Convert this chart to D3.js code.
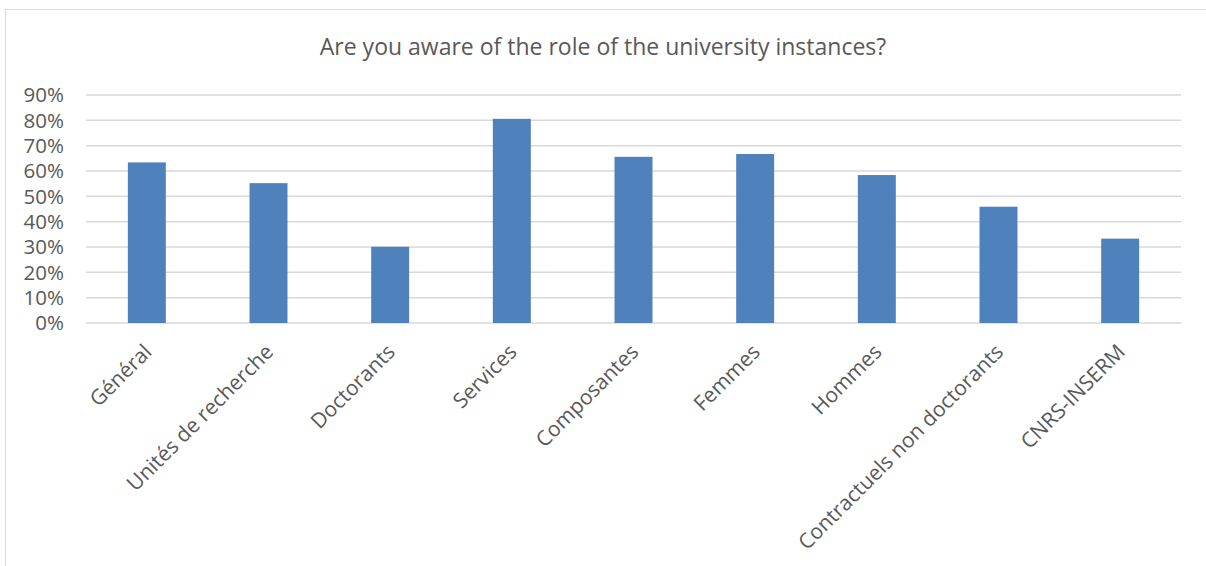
<!DOCTYPE html>
<html>
<head>
  <meta charset="utf-8">
  <script src="https://d3js.org/d3.v7.min.js"></script>
  <style>
    body { margin: 0; background: #fff; }
    .chart text { font-family: "Open Sans", sans-serif; fill: #595959; }
    .grid line { stroke: #d9d9d9; stroke-width: 1.5; }
    .bar { fill: #4f81bd; }
  </style>
</head>
<body>
  <div class="chart"></div>
  <script>
    const categories = ["Général", "Unités de recherche", "Doctorants", "Services", "Composantes",
      "Femmes", "Hommes", "Contractuels non doctorants", "CNRS-INSERM"];
    const values = [0.634, 0.552, 0.301, 0.806, 0.656, 0.667, 0.584, 0.459, 0.333];
    const yTicks = [0, 0.1, 0.2, 0.3, 0.4, 0.5, 0.6, 0.7, 0.8, 0.9];
    const title = "Are you aware of the role of the university instances?";

    const width = 1206, height = 566;
    const plotLeft = 86, plotRight = 1181, plotTop = 95, plotBottom = 323;

    const svg = d3.select(".chart").append("svg")
      .attr("width", width)
      .attr("height", height);

    // chart frame
    svg.append("rect")
      .attr("x", 5.5).attr("y", 9.5)
      .attr("width", width + 10).attr("height", height + 10)
      .attr("fill", "none")
      .attr("stroke", "#d9d9d9");

    const x = d3.scaleBand()
      .domain(categories)
      .range([plotLeft, plotRight])
      .paddingInner(0.688)
      .paddingOuter(0.344);

    const y = d3.scaleLinear()
      .domain([0, 0.9])
      .range([plotBottom, plotTop]);

    // gridlines
    svg.append("g")
      .attr("class", "grid")
      .selectAll("line")
      .data(yTicks)
      .join("line")
      .attr("x1", plotLeft).attr("x2", plotRight)
      .attr("y1", d => y(d)).attr("y2", d => y(d));

    // y labels
    svg.append("g")
      .selectAll("text")
      .data(yTicks)
      .join("text")
      .attr("x", 64)
      .attr("y", d => y(d))
      .attr("dy", "0.35em")
      .attr("text-anchor", "end")
      .style("font-size", "20.5px")
      .text(d3.format(".0%"));

    // bars
    svg.append("g")
      .selectAll("rect")
      .data(values)
      .join("rect")
      .attr("class", "bar")
      .attr("x", (d, i) => x(categories[i]))
      .attr("width", x.bandwidth())
      .attr("y", d => y(d))
      .attr("height", d => y(0) - y(d));

    // x labels
    svg.append("g")
      .selectAll("text")
      .data(categories)
      .join("text")
      .attr("transform", d => `translate(${x(d) + x.bandwidth() / 2 + 1},${plotBottom + 25}) rotate(-45)`)
      .attr("text-anchor", "end")
      .attr("dy", "0.35em")
      .style("font-size", "21px")
      .text(d => d);

    svg.append("text")
      .attr("x", 603)
      .attr("y", 55)
      .attr("text-anchor", "middle")
      .style("font-size", "23px")
      .text(title);
  </script>
</body>
</html>
